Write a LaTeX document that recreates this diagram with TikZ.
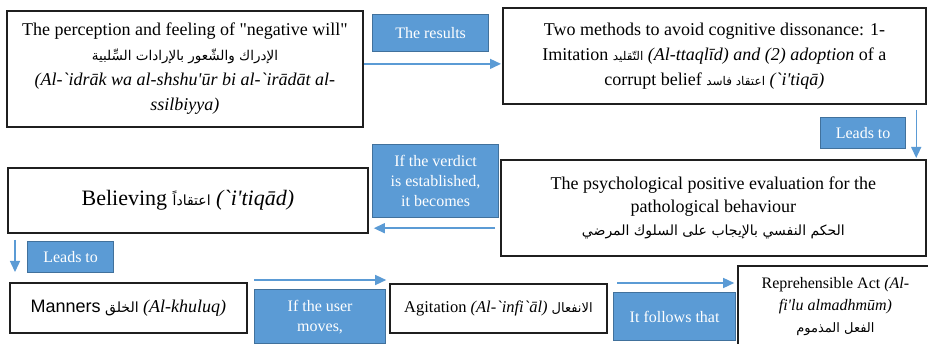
\documentclass[tikz,border=0pt]{standalone}
\usepackage{fontspec}
\setmainfont{Liberation Serif}[Ligatures=TeXOff]
\setsansfont{Liberation Sans}[Ligatures=TeXOff]
\newfontfamily\arabicfont[Script=Arabic]{DejaVu Sans}
\TeXXeTstate=1
\usetikzlibrary{arrows.meta,calc}
\definecolor{boxblue}{HTML}{5B9BD5}
\definecolor{boxedge}{HTML}{41719C}
\definecolor{arrblue}{HTML}{5B9BD5}
\definecolor{boxline}{HTML}{1F1F1F}
\newcommand\artxt[2][12]{{\arabicfont\fontsize{#1}{#1}\selectfont\beginR #2\endR}}
\begin{document}
\begin{tikzpicture}[x=1pt,y=-1pt,
  mainbox/.style={draw=boxline, line width=1.8pt, anchor=north west, align=center, inner sep=2pt},
  bluebox/.style={fill=boxblue, draw=boxedge, line width=1.2pt, anchor=north west, align=center, text=white, font=\rmfamily\fontsize{16}{20}\selectfont, inner sep=1pt},
  flow/.style={draw=arrblue, line width=1.4pt, -{Triangle[length=11pt,width=10pt]}}]
\useasboundingbox (0,0) rectangle (928,344);
\clip (0,0) rectangle (928,344);
\fill[white] (0,0) rectangle (928,344);
% main boxes
\node[mainbox, minimum width=356pt, minimum height=116pt, font=\rmfamily\fontsize{18}{25}\selectfont] (perc) at (6,10)
  {The perception and feeling of "negative will"\\ \artxt[13.5]{الإدراك والشّعور بالإرادات السِّلبية}\\ \textit{(Al-`idrāk wa al-shshu'ūr bi al-`irādāt al-}\\ \textit{ssilbiyya)}};
\node[mainbox, minimum width=423pt, minimum height=96pt, font=\rmfamily\fontsize{18}{25}\selectfont] (meth) at (502,7)
  {Two methods to avoid cognitive dissonance: 1-\\ Imitation \artxt{التّقليد} \textit{(Al-ttaqlīd) and (2) adoption} of a\\ corrupt belief \artxt{اعتقاد فاسد} \textit{(`i'tiqā)}};
\node[mainbox, minimum width=425pt, minimum height=96pt, font=\rmfamily\fontsize{18}{23}\selectfont] (eval) at (500,159)
  {The psychological positive evaluation for the\\ pathological behaviour\\ \artxt[14]{الحكم النفسي بالإيجاب على السلوك المرضي}};
\node[mainbox, minimum width=360pt, minimum height=65pt, font=\rmfamily\fontsize{22}{26}\selectfont] (bel) at (7,167)
  {Believing \artxt[14]{اعتقاداً} \textit{(`i'tiqād)}};
\node[mainbox, minimum width=237pt, minimum height=50pt, font=\rmfamily\fontsize{18}{22}\selectfont] (man) at (9,282)
  {{\sffamily Manners} \artxt[14]{الخلق} \textit{(Al-khuluq)}};
\node[mainbox, minimum width=217pt, minimum height=49pt, font=\rmfamily\fontsize{16.5}{20}\selectfont] (agi) at (389,283)
  {Agitation \textit{(Al-`infi`āl)} \artxt[13]{الانفعال}};
\node[mainbox, minimum width=195pt, minimum height=82pt, font=\rmfamily\fontsize{16}{22}\selectfont] (rep) at (737,265)
  {Reprehensible Act \textit{(Al-}\\ \textit{fi'lu almadhmūm)}\\ \artxt[13]{الفعل المذموم}};
% blue label boxes
\node[bluebox, minimum width=116pt, minimum height=37pt] (res) at (372,14) {The results};
\node[bluebox, minimum width=85pt, minimum height=31pt] (lead1) at (820,117) {Leads to};
\node[bluebox, minimum width=126pt, minimum height=73pt] (verd) at (372,144) {If the verdict\\ is established,\\ it becomes};
\node[bluebox, minimum width=86pt, minimum height=31pt] (lead2) at (27,241) {Leads to};
\node[bluebox, minimum width=131pt, minimum height=54pt] (user) at (254,289) {If the user\\ moves,};
\node[bluebox, minimum width=122pt, minimum height=48pt] (foll) at (613,292) {It follows that};
% connectors
\draw[flow] ($(perc.east)+(0,-5)$) -- ($(perc.east -| meth.west)+(-1,-5)$);
\draw[flow] ($(meth.south -| lead1.east)+(10,5)$) -- ($(eval.north -| lead1.east)+(10,-1)$);
\draw[flow] ($(eval.west |- verd.south)+(-5,10)$) -- ($(bel.east |- verd.south)+(5,10)$);
\draw[flow] ($(bel.south -| lead2.west)+(-12,6)$) -- ($(man.north -| lead2.west)+(-12,-10)$);
\draw[flow] ($(user.north west)+(0,-9)$) -- ($(user.north east)+(0,-9)$);
\draw[flow] ($(foll.north west)+(4,-9)$) -- ($(foll.north east)+(-2,-9)$);
\end{tikzpicture}
\end{document}
